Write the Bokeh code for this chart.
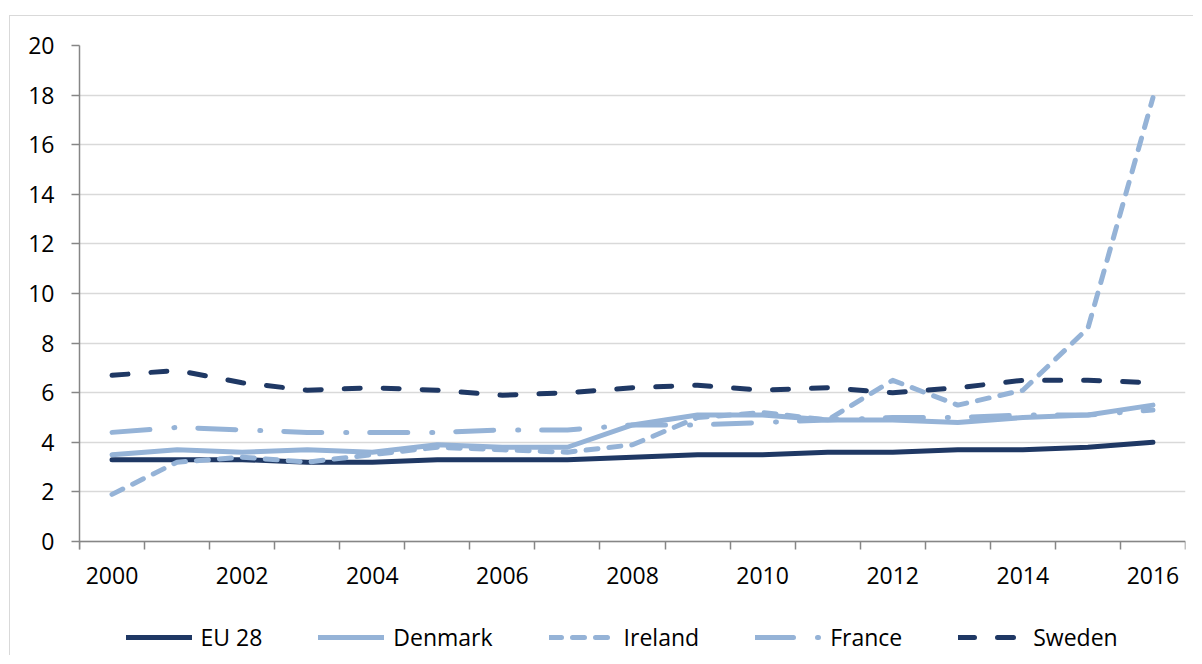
from bokeh.plotting import figure
from bokeh.models import FixedTicker, Legend, LegendItem, Range1d
from bokeh.embed import file_html
from bokeh.resources import INLINE

years = list(range(2000, 2017))
eu28 = [3.3, 3.3, 3.3, 3.2, 3.2, 3.3, 3.3, 3.3, 3.4, 3.5, 3.5, 3.6, 3.6, 3.7, 3.7, 3.8, 4.0]
denmark = [3.5, 3.7, 3.6, 3.7, 3.6, 3.9, 3.8, 3.8, 4.7, 5.1, 5.1, 4.9, 4.9, 4.8, 5.0, 5.1, 5.5]
ireland = [1.9, 3.2, 3.4, 3.2, 3.5, 3.8, 3.7, 3.6, 3.9, 5.0, 5.2, 4.9, 6.5, 5.5, 6.1, 8.6, 17.9]
france = [4.4, 4.6, 4.5, 4.4, 4.4, 4.4, 4.5, 4.5, 4.7, 4.7, 4.8, 4.9, 5.0, 5.0, 5.1, 5.1, 5.3]
sweden = [6.7, 6.9, 6.4, 6.1, 6.2, 6.1, 5.9, 6.0, 6.2, 6.3, 6.1, 6.2, 6.0, 6.2, 6.5, 6.5, 6.4]
series_names = ["EU 28", "Denmark", "Ireland", "France", "Sweden"]
x_labels = [2000, 2002, 2004, 2006, 2008, 2010, 2012, 2014, 2016]
y_ticks = [0, 2, 4, 6, 8, 10, 12, 14, 16, 18, 20]

DARK = "#1F3864"
LIGHT = "#95B3D7"
GRID = "#D9D9D9"
AXIS = "#868686"
FONT = "Open Sans"
FSIZE = "23px"

# value axis: 0..20 over 496 px; the frame continues below 0 to hold the legend
PX_PER_UNIT = 496 / 20
y_low = -114 / PX_PER_UNIT

p = figure(width=1184, height=640, output_backend="svg", toolbar_location=None,
           x_range=Range1d(1999.5, 2016.5), y_range=Range1d(y_low, 20),
           x_axis_location="above",
           min_border_left=69, min_border_right=9, min_border_top=29,
           min_border_bottom=1)
p.styles = {"margin-top": "15px", "margin-left": "9px",
            "border-left": "1px solid #D9D9D9", "border-top": "1px solid #D9D9D9"}
p.outline_line_color = None
p.background_fill_color = "white"
p.border_fill_color = "white"

p.xgrid.grid_line_color = None
p.ygrid.ticker = FixedTicker(ticks=y_ticks)
p.ygrid.grid_line_color = GRID
p.ygrid.grid_line_width = 1.5

p.yaxis.ticker = FixedTicker(ticks=y_ticks)
p.yaxis.bounds = (-8 / PX_PER_UNIT, 20)
p.xaxis.ticker = FixedTicker(ticks=x_labels,
                             minor_ticks=[1999.5 + i for i in range(18)])
p.xaxis.fixed_location = 0
for ax in (p.xaxis[0], p.yaxis[0]):
    ax.axis_line_color = AXIS
    ax.axis_line_width = 1.5
    ax.major_label_text_font = FONT
    ax.major_label_text_font_size = FSIZE
    ax.major_label_text_color = "black"
p.yaxis.major_tick_line_color = AXIS
p.yaxis.major_tick_line_width = 1.5
p.yaxis.major_tick_out = 8
p.yaxis.major_tick_in = 0
p.yaxis.minor_tick_line_color = None
p.yaxis.major_label_standoff = 17

p.xaxis.major_tick_line_color = None
p.xaxis.major_tick_out = 0
p.xaxis.major_tick_in = 0
p.xaxis.minor_tick_line_color = AXIS
p.xaxis.minor_tick_line_width = 1.5
p.xaxis.minor_tick_out = 0
p.xaxis.minor_tick_in = 8
p.xaxis.major_label_standoff = -42

common = dict(line_width=5, line_cap="round", line_join="round")
r1 = p.line(years, eu28, line_color=DARK, **common)
r2 = p.line(years, denmark, line_color=LIGHT, **common)
r3 = p.line(years, ireland, line_color=LIGHT, line_dash="12 11", **common)
r4 = p.line(years, france, line_color=LIGHT, line_dash="38 24 1 23", **common)
r5 = p.line(years, sweden, line_color=DARK, line_dash="16 23", **common)

legend = Legend(items=[LegendItem(label=n, renderers=[r]) for n, r in
                       zip(series_names, [r1, r2, r3, r4, r5])],
                orientation="horizontal", location=(46.5, 2),
                label_text_font=FONT, label_text_font_size=FSIZE,
                label_text_color="black", glyph_width=66, glyph_height=20,
                label_standoff=9, spacing=56, padding=0, margin=0,
                border_line_color=None, background_fill_alpha=0)
p.add_layout(legend)

open("out.html", "w").write(file_html(p, INLINE))
